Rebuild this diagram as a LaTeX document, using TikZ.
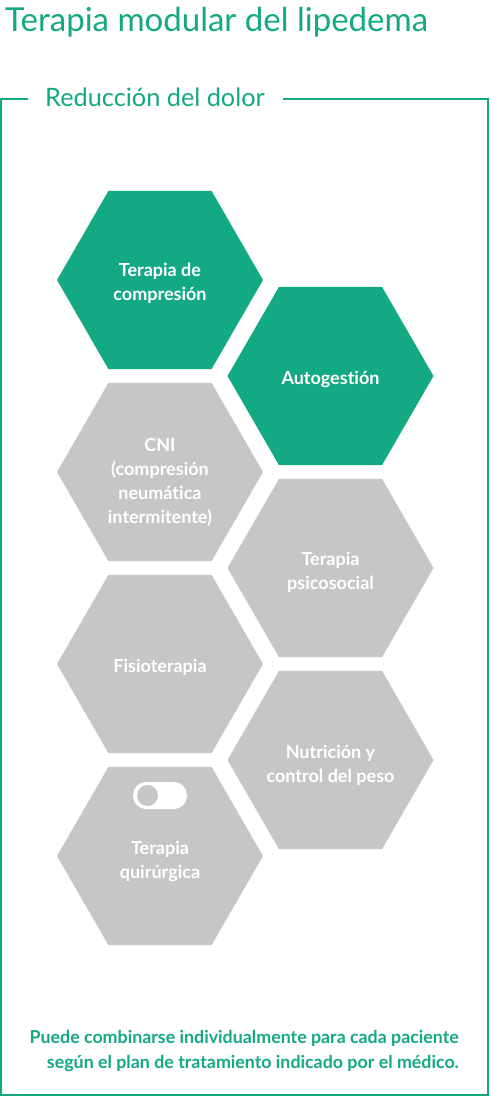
\documentclass[tikz,border=0pt]{standalone}
\usepackage{fontspec}
\setmainfont{Lato}[Ligatures={NoCommon,NoRare}]
\usetikzlibrary{shapes.geometric}
\definecolor{brandgreen}{RGB}{18,169,131}
\definecolor{hexgray}{RGB}{198,198,198}
\begin{document}
\begin{tikzpicture}[x=1pt,y=-1pt,
  hexbox/.style={regular polygon, regular polygon sides=6, minimum size=206pt,
    inner sep=0pt, outer sep=0pt, draw=none},
  greenhex/.style={hexbox, fill=brandgreen},
  grayhex/.style={hexbox, fill=hexgray},
  hextext/.style={text=white, align=center, inner sep=0pt,
    font=\bfseries\fontsize{18}{24}\selectfont},
  notetext/.style={anchor=base east, inner sep=0pt, text=brandgreen,
    font=\bfseries\fontsize{17.8}{22}\selectfont},
  frameline/.style={draw=brandgreen, line width=2pt}]
\useasboundingbox (0,0) rectangle (490,1097);
\fill[white] (0,0) rectangle (490,1097);
% title
\node[anchor=base west, inner sep=0pt, text=brandgreen,
  font=\fontsize{33}{38}\selectfont] (title) at (5,32) {Terapia modular del lipedema};
% frame
\node[anchor=base west, inner sep=0pt, text=brandgreen,
  font=\fontsize{25.3}{30}\selectfont] (sub) at (45,107) {Reducción del dolor};
\draw[frameline] (28,99) -- (1,99) -- (1,1095) -- (488,1095) -- (488,99) -- (283,99);
% hexagons
\node[greenhex] (comp) at (160,280) {};
\node[greenhex] (auto) at (330.5,376) {};
\node[grayhex] (cni) at (160,472) {};
\node[grayhex] (psico) at (330.5,568) {};
\node[grayhex] (fisio) at (160,664) {};
\node[grayhex] (nutri) at (330.5,760) {};
\node[grayhex] (quir) at (160,856) {};
% texts
\node[hextext] (comptext) at ([yshift=-3.5pt]comp.center) {Terapia de\\compresión};
\node[hextext] (autotext) at ([yshift=-3pt]auto.center) {Autogestión};
\node[hextext] (cnitext) at ([yshift=-10pt]cni.center) {CNI\\(compresión\\neumática\\intermitente)};
\node[hextext] (psicotext) at ([yshift=-4pt]psico.center) {Terapia\\psicosocial};
\node[hextext] (fisiotext) at ([yshift=-3pt]fisio.center) {Fisioterapia};
\node[hextext] (nutritext) at ([yshift=-5pt]nutri.center) {Nutrición y\\control del peso};
\node[hextext] (quirtext) at ([yshift=-5pt]quir.center) {Terapia\\quirúrgica};
% toggle icon
\fill[white, rounded corners=13pt] (133,782) rectangle (187,809);
\fill[hexgray] (147.5,795.5) circle (10.5pt);
% note
\node[notetext] (note1) at (459,1043) {Puede combinarse individualmente para cada paciente};
\node[notetext] (note2) at (459,1068) {según el plan de tratamiento indicado por el médico.};
\end{tikzpicture}
\end{document}
